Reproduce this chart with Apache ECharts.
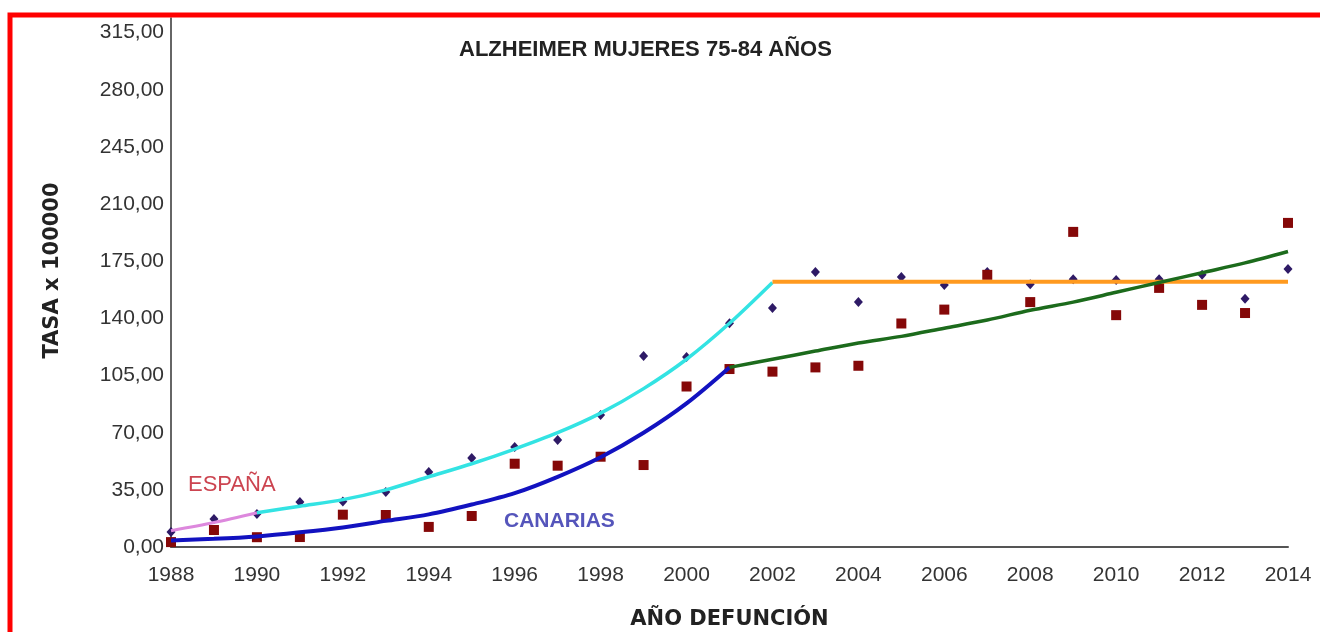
<!DOCTYPE html>
<html>
<head>
<meta charset="utf-8">
<script src="https://cdn.jsdelivr.net/npm/echarts@6/dist/echarts.min.js"></script>
<style>
  html, body { margin: 0; padding: 0; background: #fff; }
  #chart { width: 1320px; height: 632px; }
</style>
</head>
<body>
<div id="chart"></div>
<script>
// observed rates (tasa x 100000)
const years = [1988, 1989, 1990, 1991, 1992, 1993, 1994, 1995, 1996, 1997, 1998, 1999, 2000,
  2001, 2002, 2003, 2004, 2005, 2006, 2007, 2008, 2009, 2010, 2011, 2012, 2013, 2014];
const espana = [9.2, 17.2, 20.2, 27.6, 27.8, 33.7, 46, 54.5, 61.3, 65.6, 80.9, 117, 116.4,
  137, 146.4, 168.5, 150, 165.4, 160.5, 168.5, 161, 164, 163.6, 164, 166.7, 152, 170.3];
const canarias = [3, 10.4, 6, 6.1, 19.8, 19.6, 12.3, 19, 51, 49.8, 55.3, 50.2, 98.3,
  109, 107.4, 110, 111, 136.9, 145.4, 166.7, 150, 193, 142, 158.7, 148.3, 143.3, 198.5];

// trend segments
const espTrendAYears = [1988, 1989, 1990];
const espTrendA = [10, 15, 21];
const espTrendBYears = [1990, 1991, 1992, 1993, 1994, 1995, 1996, 1997, 1998, 1999, 2000, 2001, 2002];
const espTrendB = [21, 25, 29, 35, 43, 51, 60, 70, 82, 97, 115, 137, 162];
const espTrendCYears = [2002, 2014];
const espTrendC = [162.5, 162.5];
const canTrendAYears = [1988, 1989, 1990, 1991, 1992, 1993, 1994, 1995, 1996, 1997, 1998, 1999, 2000, 2001];
const canTrendA = [4, 5, 6.5, 9, 12, 16, 20, 26, 33, 43, 55, 70, 88, 110];
const canTrendBYears = [2001, 2002, 2003, 2004, 2005, 2006, 2007, 2008, 2009, 2010, 2011, 2012, 2013, 2014];
const canTrendB = [110, 115, 120, 125, 129, 134, 139, 145, 150, 156, 162, 168, 174, 181];

const pairs = (xs, ys) => xs.map((x, i) => [x, ys[i]]);

const trendLine = (name, xs, ys, color, width) => ({
  name: name,
  type: 'line',
  data: pairs(xs, ys),
  smooth: 0.3,
  showSymbol: false,
  z: 3,
  lineStyle: { color: color, width: width },
});

const chart = echarts.init(document.getElementById('chart'));

chart.setOption({
  animation: false,
  title: {
    text: 'ALZHEIMER MUJERES 75-84 AÑOS',
    left: 454,
    top: 34,
    textStyle: { fontFamily: 'Liberation Sans', fontWeight: 'bold', fontSize: 22, color: '#222' },
  },
  grid: { left: 171, right: 32, top: 18, bottom: 85, outerBoundsMode: 'none' },
  xAxis: {
    type: 'value',
    min: 1988,
    max: 2014,
    interval: 2,
    name: 'AÑO DEFUNCIÓN',
    nameLocation: 'middle',
    nameGap: 62,
    nameTextStyle: { fontFamily: 'DejaVu Sans', fontWeight: 'bold', fontSize: 21, color: '#222' },
    splitLine: { show: false },
    axisTick: { show: false },
    axisLine: { lineStyle: { color: '#555', width: 2 } },
    axisLabel: {
      margin: 18,
      fontFamily: 'Liberation Sans',
      fontSize: 21,
      color: '#333',
      formatter: (v) => String(v),
    },
  },
  yAxis: {
    type: 'value',
    min: 0,
    max: 324,
    interval: 35,
    name: 'TASA x 100000',
    nameLocation: 'middle',
    nameGap: 108,
    nameTextStyle: {
      fontFamily: 'DejaVu Sans',
      fontWeight: 'bold',
      fontSize: 21,
      color: '#222',
      padding: [0, 0, 0, 24],
    },
    splitLine: { show: false },
    axisTick: { show: false },
    axisLine: { show: true, lineStyle: { color: '#333', width: 1.5 } },
    axisLabel: {
      margin: 7,
      fontFamily: 'Liberation Sans',
      fontSize: 21,
      color: '#333',
      formatter: (v) => (v % 35 === 0 ? v.toFixed(2).replace('.', ',') : ''),
    },
  },
  graphic: [
    {
      type: 'rect',
      shape: { x: 10, y: 15, width: 1400, height: 700 },
      style: { fill: 'none', stroke: '#ff0000', lineWidth: 5 },
      z: 10,
    },
    {
      type: 'text',
      left: 188,
      top: 474,
      style: { text: 'ESPAÑA', fontFamily: 'Liberation Sans', fontSize: 22, fill: '#cc4450' },
    },
    {
      type: 'text',
      left: 504,
      top: 511,
      style: { text: 'CANARIAS', fontFamily: 'Liberation Sans', fontWeight: 'bold', fontSize: 21, fill: '#5555bb' },
    },
  ],
  series: [
    {
      name: 'España',
      type: 'scatter',
      data: pairs(years, espana),
      symbol: 'diamond',
      symbolSize: [9, 10],
      itemStyle: { color: '#2e1a66', opacity: 1 },
      z: 2,
    },
    {
      name: 'Canarias',
      type: 'scatter',
      data: pairs(years, canarias),
      symbol: 'rect',
      symbolSize: 10,
      itemStyle: { color: '#850808', opacity: 1 },
      z: 2,
    },
    trendLine('España 1988-1990', espTrendAYears, espTrendA, '#dd88dd', 3),
    trendLine('España 1990-2002', espTrendBYears, espTrendB, '#33e3e3', 3.5),
    trendLine('España 2002-2014', espTrendCYears, espTrendC, '#ff9a1f', 4),
    trendLine('Canarias 1988-2001', canTrendAYears, canTrendA, '#1212c0', 4),
    trendLine('Canarias 2001-2014', canTrendBYears, canTrendB, '#1c6b1c', 3.5),
  ],
});
</script>
</body>
</html>
